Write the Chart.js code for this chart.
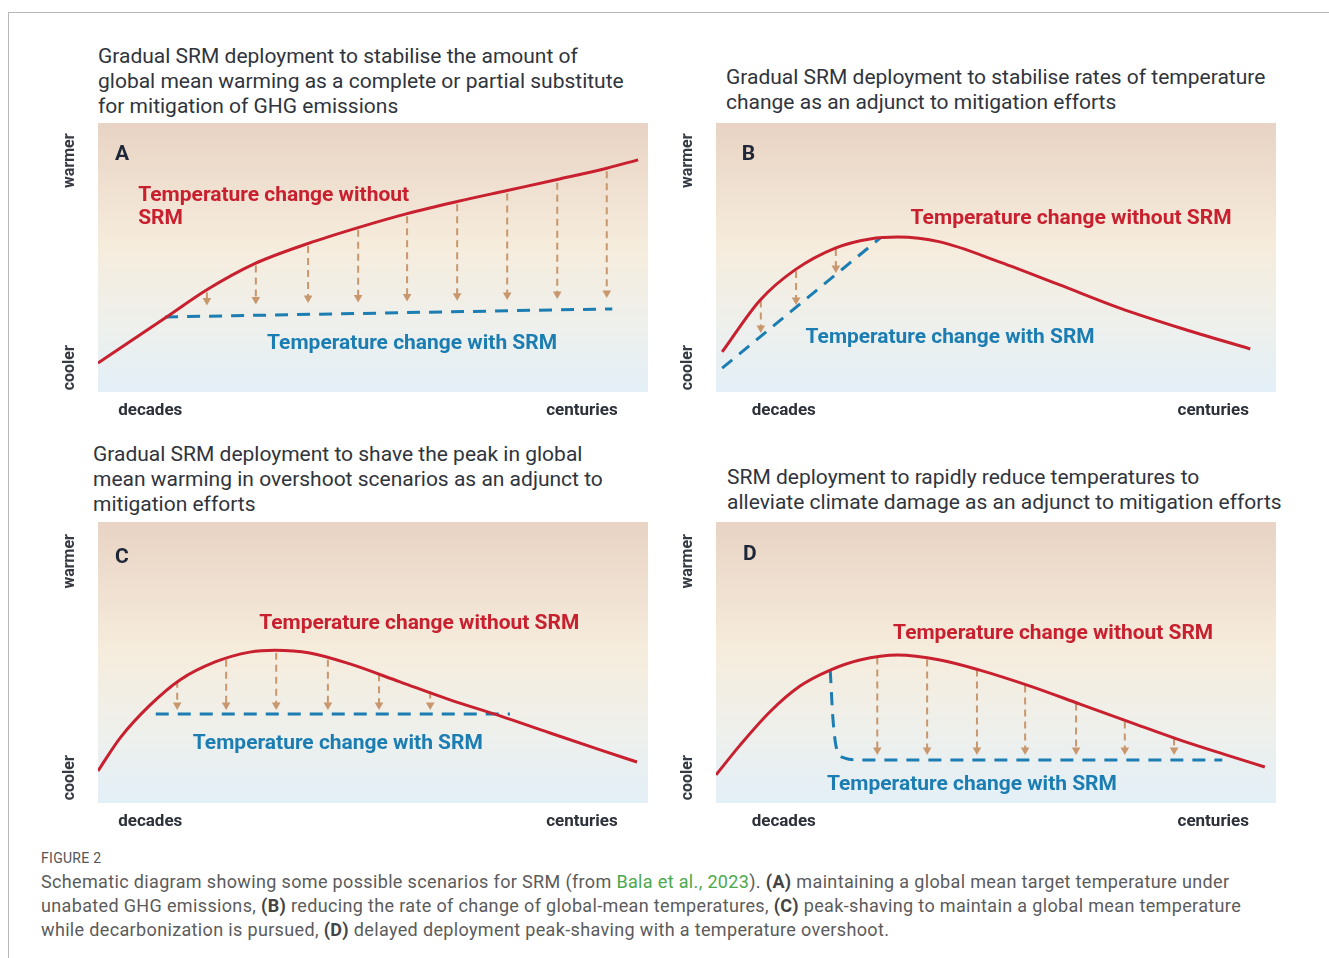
<!DOCTYPE html>
<html>
<head>
<meta charset="utf-8">
<script src="https://cdn.jsdelivr.net/npm/chart.js@4.4.1/dist/chart.umd.min.js"></script>
<style>
  body { margin: 0; background: #fff; width: 1329px; height: 958px; position: relative; overflow: hidden; font-family: Roboto, sans-serif; }
  .frame { position: absolute; left: 8px; top: 12px; right: 0; bottom: 0; border-top: 1px solid #b8b8b8; border-left: 1px solid #b8b8b8; }
  .title { position: absolute; font-size: 21px; line-height: 25px; color: #30343c; white-space: nowrap; }
  canvas { position: absolute; }
  .fig { position: absolute; left: 41px; top: 850px; font-size: 14px; line-height: 16px; color: #555; letter-spacing: .3px; }
  .caption { position: absolute; left: 41px; top: 870px; font-size: 18px; line-height: 24px; color: #5b5b5b; white-space: nowrap; letter-spacing: .35px; }
  .caption a { color: #4ca84c; text-decoration: none; }
  .caption b { color: #444; }
</style>
</head>
<body>
<div class="frame"></div>

<div class="title" style="left:98px;top:44px">Gradual SRM deployment to stabilise the amount of<br>global mean warming as a complete or partial substitute<br>for mitigation of GHG emissions</div>
<div class="title" style="left:726px;top:65px">Gradual SRM deployment to stabilise rates of temperature<br>change as an adjunct to mitigation efforts</div>
<div class="title" style="left:93px;top:442px">Gradual SRM deployment to shave the peak in global<br>mean warming in overshoot scenarios as an adjunct to<br>mitigation efforts</div>
<div class="title" style="left:727px;top:465px">SRM deployment to rapidly reduce temperatures to<br>alleviate climate damage as an adjunct to mitigation efforts</div>

<canvas id="chartA" width="610" height="299" style="left:48px;top:123px"></canvas>
<canvas id="chartB" width="620" height="299" style="left:666px;top:123px"></canvas>
<canvas id="chartC" width="610" height="311" style="left:48px;top:522px"></canvas>
<canvas id="chartD" width="620" height="311" style="left:666px;top:522px"></canvas>

<div class="fig">FIGURE 2</div>
<div class="caption">Schematic diagram showing some possible scenarios for SRM (from <a>Bala et al., 2023</a>). <b>(A)</b> maintaining a global mean target temperature under<br>unabated GHG emissions, <b>(B)</b> reducing the rate of change of global-mean temperatures, <b>(C)</b> peak-shaving to maintain a global mean temperature<br>while decarbonization is pursued, <b>(D)</b> delayed deployment peak-shaving with a temperature overshoot.</div>

<script>
// ── tick labels (x positions in % of the time axis)
const xTickLabels = ['decades', 'centuries'];
const xTicksLeft = [9.5, 88];
const xTicksRight = [12.1, 88.8];
const yLabels = ['warmer', 'cooler'];
const yLabelValues = [86, 9];
const redText = 'Temperature change without SRM';
const blueText = 'Temperature change with SRM';

// ── Panel A
const aRedX = [0, 12.2, 19.8, 28.4, 38.2, 47.3, 56.2, 65.3, 74.4, 83.5, 92.5, 98.2];
const aRedY = [10.8, 27.5, 38.0, 47.6, 55.2, 61.1, 66.3, 70.8, 74.9, 79.0, 83.2, 86.3];
const aBlueX = [12.2, 93.5];
const aBlueY = [27.9, 30.9];
const aArrowX = [19.8, 28.7, 38.2, 47.3, 56.2, 65.3, 74.4, 83.5, 92.5];
const aArrowFrom = [37.0, 47.0, 54.3, 60.3, 65.3, 69.8, 73.8, 77.8, 82.1];
const aArrowTo = [34.0, 34.4, 34.9, 35.1, 35.5, 35.8, 36.1, 36.4, 36.8];

// ── Panel B
const bRedX = [1.1, 7.9, 14.1, 21.3, 27.5, 32.5, 40.0, 50.7, 61.4, 72.1, 82.9, 95.4];
const bRedY = [14.9, 34.2, 45.4, 53.5, 56.9, 57.6, 55.8, 48.3, 39.8, 31.2, 23.8, 16.0];
const bBlueX = [1.1, 29.3];
const bBlueY = [8.9, 57.2];
const bArrowX = [8.0, 14.3, 21.4];
const bArrowFrom = [34.0, 45.0, 53.2];
const bArrowTo = [23.8, 34.2, 46.1];

// ── Panel C
const cRedX = [0, 4.0, 9.5, 14.9, 21.3, 27.6, 32.2, 38.5, 45.8, 54.9, 64.0, 73.1, 82.2, 91.3, 98.0];
const cRedY = [11.4, 23.1, 34.9, 43.8, 50.2, 53.7, 54.4, 53.4, 49.5, 43.1, 36.7, 31.0, 24.9, 18.9, 14.6];
const cBlueX = [10.5, 74.9];
const cBlueY = [31.7, 31.7];
const cArrowX = [14.4, 23.3, 32.4, 41.8, 51.1, 60.4];
const cArrowFrom = [43.5, 51.0, 53.5, 51.0, 45.8, 39.7];
const cArrowTo = [34.9, 34.9, 34.9, 34.9, 34.9, 34.9];

// ── Panel D
const dRedX = [0, 4.3, 9.6, 15.0, 20.4, 25.7, 32.5, 40.0, 47.1, 56.1, 65.0, 73.9, 82.9, 91.8, 98.0];
const dRedY = [10.0, 20.6, 32.4, 41.6, 47.3, 50.9, 52.7, 50.9, 47.3, 41.6, 35.2, 28.8, 22.4, 16.7, 12.8];
const dBlueX = [20.4, 20.9, 21.6, 23.0, 25.7, 90.4];
const dBlueY = [47.3, 29.5, 18.9, 16.0, 15.3, 15.3];
const dArrowX = [28.8, 37.7, 46.6, 55.2, 64.3, 73.0, 81.8];
const dArrowFrom = [51.8, 51.1, 47.5, 41.8, 35.4, 29.0, 23.0];
const dArrowTo = [18.9, 18.9, 18.9, 18.9, 18.9, 18.9, 18.9];

const RED = '#c8202f';
const BLUE = '#1b7db2';
const TAN = '#c8976e';
const INK = '#2c3039';

const toPts = (xs, ys) => xs.map((x, i) => ({ x, y: ys[i] }));

// draws text squeezed/stretched to a target width (reference uses a condensed face)
function fitText(ctx, lines, x, y, w, align, lh) {
  const s = w / ctx.measureText(lines[0]).width;
  lines.forEach((t, i) => {
    ctx.save();
    ctx.translate(x, y + i * lh);
    ctx.scale(s, 1);
    ctx.textAlign = align;
    ctx.fillText(t, 0, 0);
    ctx.restore();
  });
}

const decor = {
  id: 'decor',
  beforeDraw(chart) {
    const { ctx, chartArea: a } = chart;
    const g = ctx.createLinearGradient(0, a.top, 0, a.bottom);
    g.addColorStop(0, '#e8d3c4');
    g.addColorStop(0.45, '#f6ecdc');
    g.addColorStop(0.75, '#eef0ec');
    g.addColorStop(1, '#e3eff7');
    ctx.save();
    ctx.fillStyle = g;
    ctx.fillRect(a.left, a.top, a.right - a.left, a.bottom - a.top);
    ctx.restore();
  },
  afterDraw(chart, args, o) {
    const { ctx, chartArea: a, scales: { x, y } } = chart;
    ctx.save();
    ctx.textBaseline = 'middle';

    // warmer / cooler
    ctx.fillStyle = '#363a42';
    ctx.font = 'bold 16px Roboto';
    yLabels.forEach((t, i) => {
      ctx.save();
      ctx.translate(a.left - 28, y.getPixelForValue(yLabelValues[i]));
      ctx.rotate(-Math.PI / 2);
      ctx.textAlign = 'center';
      ctx.fillText(t, 0, 0);
      ctx.restore();
    });

    // panel letter
    ctx.fillStyle = '#1d2738';
    ctx.font = 'bold 21px Roboto';
    ctx.textAlign = 'left';
    ctx.fillText(o.letter, x.getPixelForValue(o.letterAt[0]), y.getPixelForValue(o.letterAt[1]));

    // curve labels
    ctx.font = 'bold 20px Roboto';
    ctx.fillStyle = RED;
    fitText(ctx, o.redLines, x.getPixelForValue(o.redAt[0]), y.getPixelForValue(o.redAt[1]), o.redW, o.redAlign, 23);
    ctx.fillStyle = BLUE;
    fitText(ctx, [blueText], x.getPixelForValue(o.blueAt[0]), y.getPixelForValue(o.blueAt[1]), o.blueW, 'center', 23);
    ctx.restore();
  }
};

function makeChart(id, p) {
  const datasets = [
    { data: toPts(p.redX, p.redY), borderColor: RED, borderWidth: 3, pointRadius: 0, cubicInterpolationMode: 'monotone' },
    { data: toPts(p.blueX, p.blueY), borderColor: BLUE, borderWidth: 3, borderDash: [13, 9], pointRadius: 0, cubicInterpolationMode: 'monotone' }
  ];
  p.arrowX.forEach((ax, i) => datasets.push({
    data: [{ x: ax, y: p.arrowFrom[i] }, { x: ax, y: p.arrowTo[i] }],
    borderColor: TAN, borderWidth: 2, borderDash: [7, 5],
    pointRadius: [0, 5], pointStyle: 'triangle', pointRotation: 180,
    pointBackgroundColor: TAN, pointBorderWidth: 0
  }));

  return new Chart(document.getElementById(id), {
    type: 'line',
    data: { datasets },
    options: {
      responsive: false,
      animation: false,
      layout: { autoPadding: false, padding: { left: 50, right: 10, top: 0, bottom: 0 } },
      plugins: { legend: { display: false }, tooltip: { enabled: false }, decor: p.decor },
      scales: {
        x: {
          type: 'linear', min: 0, max: 100,
          grid: { display: false, drawTicks: false },
          border: { display: false },
          afterBuildTicks: s => { s.ticks = p.ticks.map(v => ({ value: v })); },
          afterFit: s => { s.height = 30; },
          ticks: {
            autoSkip: false, maxRotation: 0, padding: 9, color: INK,
            font: { family: 'Roboto', size: 17, weight: 'bold' },
            callback: (v, i) => xTickLabels[i]
          }
        },
        y: { type: 'linear', min: 0, max: 100, display: false }
      }
    },
    plugins: [decor]
  });
}

makeChart('chartA', {
  redX: aRedX, redY: aRedY, blueX: aBlueX, blueY: aBlueY,
  arrowX: aArrowX, arrowFrom: aArrowFrom, arrowTo: aArrowTo, ticks: xTicksLeft,
  decor: { letter: 'A', letterAt: [3.1, 88.2], redLines: ['Temperature change without', 'SRM'], redAt: [7.3, 73], redW: 271, redAlign: 'left', blueAt: [57.1, 17.9], blueW: 290 }
});
makeChart('chartB', {
  redX: bRedX, redY: bRedY, blueX: bBlueX, blueY: bBlueY,
  arrowX: bArrowX, arrowFrom: bArrowFrom, arrowTo: bArrowTo, ticks: xTicksRight,
  decor: { letter: 'B', letterAt: [4.6, 88.2], redLines: [redText], redAt: [63.4, 64.4], redW: 321, redAlign: 'center', blueAt: [41.8, 20.1], blueW: 289 }
});
makeChart('chartC', {
  redX: cRedX, redY: cRedY, blueX: cBlueX, blueY: cBlueY,
  arrowX: cArrowX, arrowFrom: cArrowFrom, arrowTo: cArrowTo, ticks: xTicksLeft,
  decor: { letter: 'C', letterAt: [3.1, 87.3], redLines: [redText], redAt: [58.4, 63.7], redW: 320, redAlign: 'center', blueAt: [43.6, 21.0], blueW: 290 }
});
makeChart('chartD', {
  redX: dRedX, redY: dRedY, blueX: dBlueX, blueY: dBlueY,
  arrowX: dArrowX, arrowFrom: dArrowFrom, arrowTo: dArrowTo, ticks: xTicksRight,
  decor: { letter: 'D', letterAt: [4.8, 88.2], redLines: [redText], redAt: [60.2, 60.1], redW: 320, redAlign: 'center', blueAt: [45.7, 6.4], blueW: 290 }
});
</script>
</body>
</html>
